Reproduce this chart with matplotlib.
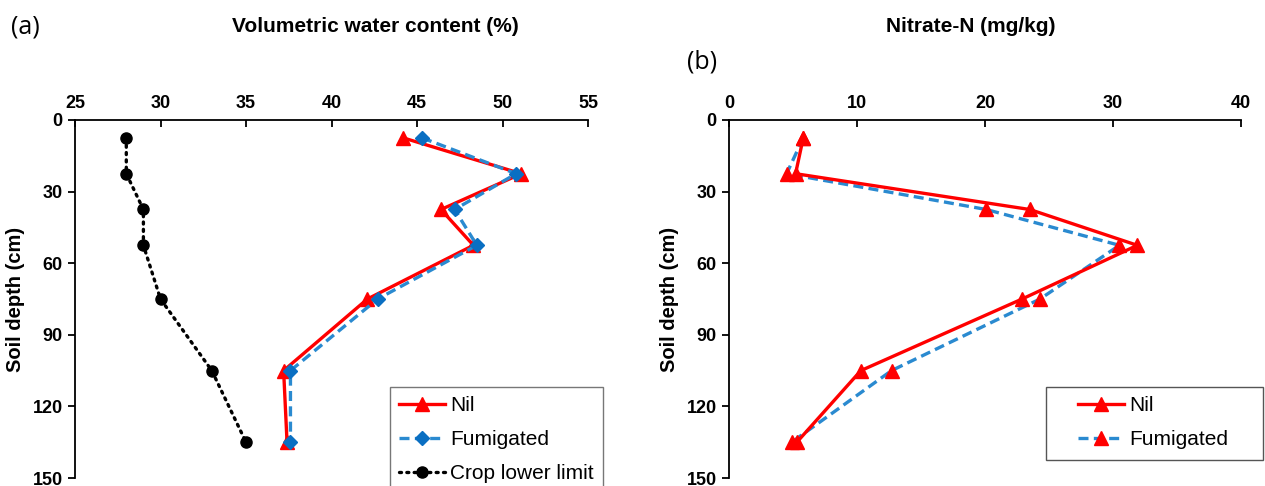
import matplotlib
matplotlib.use("Agg")
import matplotlib.pyplot as plt
from matplotlib.patches import Rectangle

# soil depth (cm), midpoints of sampling layers
depth = [7.5, 22.5, 37.5, 52.5, 75, 105, 135]

# (a) volumetric water content (%)
vwc_nil = [44.2, 51.1, 46.4, 48.3, 42.1, 37.2, 37.4]
vwc_fum = [45.3, 50.8, 47.2, 48.5, 42.7, 37.6, 37.6]
crop_lower_limit = [28, 28, 29, 29, 30, 33, 35]

# (b) nitrate-N (mg/kg)
no3_nil = [5.8, 5.2, 23.5, 31.9, 22.9, 10.3, 5.3]
no3_fum = [5.8, 4.5, 20.1, 30.5, 24.3, 12.7, 4.9]

plt.rcParams['font.family'] = ['Liberation Sans', 'DejaVu Sans']

RED = '#FF0000'
BLUE_LINE = '#2A8AD0'
BLUE_MARK = '#0A6FC2'

W, H = 1265, 486
fig = plt.figure(figsize=(W / 100, H / 100), dpi=100)


def px_axes(x0, x1, y0, y1):
    return fig.add_axes([x0 / W, 1 - y1 / H, (x1 - x0) / W, (y1 - y0) / H])


def style_axes(ax, xlim, xticks):
    ax.set_xlim(*xlim)
    ax.set_xticks(xticks)
    ax.set_ylim(150, 0)
    ax.set_yticks(range(0, 151, 30))
    ax.xaxis.tick_top()
    ax.spines['bottom'].set_visible(False)
    ax.spines['right'].set_visible(False)
    for s in ('top', 'left'):
        ax.spines[s].set_linewidth(1.3)
    ax.tick_params(axis='x', direction='in', length=5, width=1.3, pad=6)
    ax.tick_params(axis='y', direction='out', length=5, width=1.3, pad=4)
    for lab in ax.get_xticklabels() + ax.get_yticklabels():
        lab.set_fontweight('bold')
        lab.set_fontsize(13)
    ax.set_ylabel('Soil depth (cm)', fontsize=14.5, fontweight='bold', labelpad=5)


leg_kw = dict(fontsize=15, handlelength=2.2, handletextpad=0.25, labelspacing=0.72,
              borderaxespad=0)

# ---- panel (a)
ax1 = px_axes(75, 588, 120, 478)
ax1.plot(vwc_nil, depth, color=RED, lw=2.4, marker='^', ms=10, mec=RED, label='Nil', zorder=3)
ax1.plot(vwc_fum, depth, color=BLUE_LINE, lw=2.4, ls=(0, (3, 1.6)), marker='D', ms=7.5,
         mfc=BLUE_MARK, mec=BLUE_MARK, label='Fumigated', zorder=4)
ax1.plot(crop_lower_limit, depth, color='black', lw=2.4, ls=(0, (0.6, 1.6)), dash_capstyle='round',
         marker='o', ms=8, label='Crop lower limit')
style_axes(ax1, (25, 55), range(25, 56, 5))
leg1 = ax1.legend(loc='upper left', bbox_to_anchor=(315 / 513, 1 - 267 / 358), frameon=True,
                  fancybox=False, edgecolor='#555555', borderpad=0.45, **leg_kw)
leg1.get_frame().set_linewidth(1.0)

fig.text(25 / W, 1 - 27 / H, '(a)', fontsize=18, va='center', ha='center', family='Open Sans')
fig.text(375 / W, 1 - 26 / H, 'Volumetric water content (%)', fontsize=15, fontweight='bold',
         ha='center', va='center')

# ---- panel (b)
ax2 = px_axes(729, 1241, 120, 478)
ax2.plot(no3_nil, depth, color=RED, lw=2.4, marker='^', ms=10, mec=RED, label='Nil', zorder=4)
ax2.plot(no3_fum, depth, color=BLUE_LINE, lw=2.4, ls=(0, (3, 1.6)), marker='^', ms=10,
         mfc=RED, mec=RED, label='Fumigated', zorder=3)
style_axes(ax2, (0, 40), range(0, 41, 10))
# legend without frame, frame drawn separately (box is wider than its content)
ax2.legend(loc='upper left', bbox_to_anchor=((1078 - 729) / 512, 1 - (396 - 120) / 358),
           frameon=False, borderpad=0.0, **leg_kw)
ax2.add_patch(Rectangle(((1046 - 729) / 512, 1 - (460 - 120) / 358), 217 / 512, 73 / 358,
                        transform=ax2.transAxes, fill=False, edgecolor='#555555', lw=1.0,
                        clip_on=False, zorder=5))

fig.text(702 / W, 1 - 62 / H, '(b)', fontsize=18, va='center', ha='center', family='Open Sans')
fig.text(971 / W, 1 - 26 / H, 'Nitrate-N (mg/kg)', fontsize=15, fontweight='bold',
         ha='center', va='center')

fig.savefig('out.png', dpi=100)
